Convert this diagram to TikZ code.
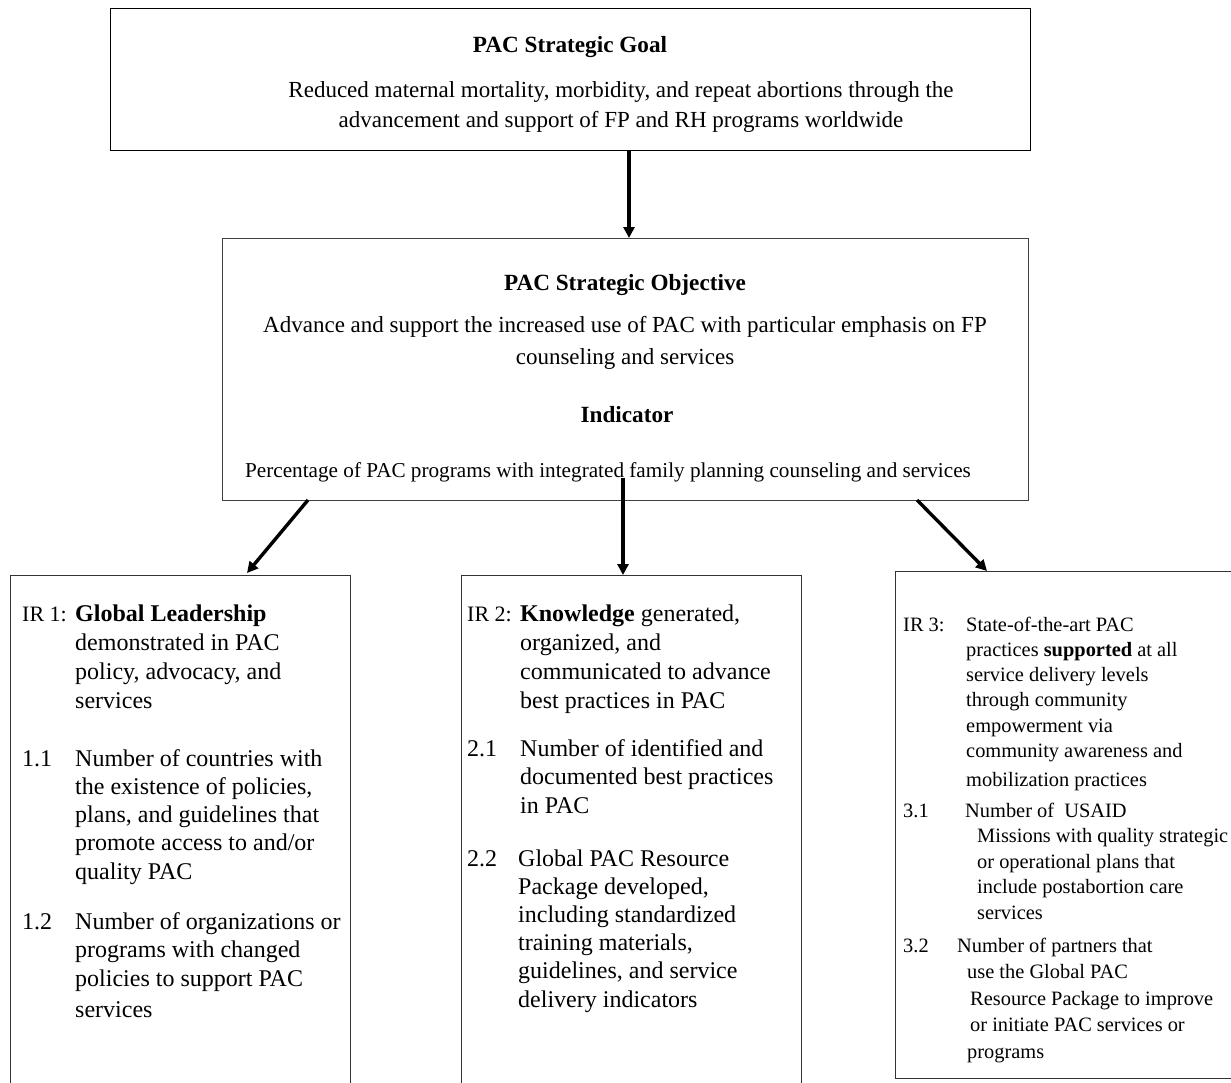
\documentclass[tikz,border=0pt]{standalone}
\usepackage{fontspec}
\setmainfont{Liberation Serif}
\usetikzlibrary{arrows.meta}
\newcommand{\fs}[2]{\fontsize{#1}{#2}\selectfont}
\newcommand{\irlab}[1]{{\fontsize{22}{22}\selectfont #1}}
\begin{document}
\begin{tikzpicture}[x=1pt,y=-1pt,
  topbox/.style={draw=black,line width=1.4pt,inner sep=0pt,anchor=north west},
  midbox/.style={draw=black!75,line width=1.4pt,inner sep=0pt,anchor=north west},
  irbox/.style={draw=black!80,line width=1.2pt,inner sep=0pt,anchor=north west},
  txt/.style={inner sep=0pt,anchor=base},
  blk/.style={inner sep=0pt,anchor=base west},
  conn/.style={line width=3.4pt,-{Triangle[length=11pt,width=11pt]}}]
\useasboundingbox (0,0) rectangle (1231,1082);
\fill[white] (0,0) rectangle (1231,1082);
% boxes
\node[topbox,minimum width=920pt,minimum height=142pt] (goal) at (110,8) {};
\node[midbox,minimum width=806pt,minimum height=262pt] (obj) at (222,238) {};
\node[irbox,minimum width=340pt,minimum height=540pt] (ir1) at (10,575) {};
\node[irbox,minimum width=340pt,minimum height=540pt] (ir2) at (461,575) {};
\node[irbox,minimum width=360pt,minimum height=507pt] (ir3) at (895,571) {};
% top box text
\node[txt,font=\fs{23.2}{27}\bfseries] (gt) at (570,52) {PAC Strategic Goal};
\node[txt,font=\fs{23}{27}] (g1) at (621,97) {Reduced maternal mortality, morbidity, and repeat abortions through the};
\node[txt,font=\fs{23}{27}] (g2) at (621,127) {advancement and support of FP and RH programs worldwide};
% objective box text
\node[txt,font=\fs{23.2}{27}\bfseries] (ot) at (625,290) {PAC Strategic Objective};
\node[txt,font=\fs{23}{27}] (o1) at (625,332) {Advance and support the increased use of PAC with particular emphasis on FP};
\node[txt,font=\fs{23}{27}] (o2) at (625,364) {counseling and services};
\node[txt,font=\fs{23.2}{27}\bfseries] (it) at (627,422) {Indicator};
\node[txt,font=\fs{21.2}{27}] (i1) at (608,477) {Percentage of PAC programs with integrated family planning counseling and services};
% IR 1
\node[blk,font=\fs{24}{29.3}] (l0) at (22,621) {\begin{tabular}[t]{@{}p{53pt}@{}l@{}}\irlab{IR 1:} & \textbf{Global Leadership}\\ & demonstrated in PAC\\ & policy, advocacy, and\\ & services\end{tabular}};
\node[blk,font=\fs{24}{28.3}] (l1) at (22,766) {\begin{tabular}[t]{@{}p{53pt}@{}l@{}}1.1 & Number of countries with\\ & the existence of policies,\\ & plans, and guidelines that\\ & promote access to and/or\\ & quality PAC\end{tabular}};
\node[blk,font=\fs{24}{28.5}] (l2) at (22,929) {\begin{tabular}[t]{@{}p{53pt}@{}l@{}}1.2 & Number of organizations or\\ & programs with changed\\ & policies to support PAC\\[3pt] & services\end{tabular}};
% IR 2
\node[blk,font=\fs{24}{29.3}] (m0) at (467,621) {\begin{tabular}[t]{@{}p{53pt}@{}l@{}}\irlab{IR 2:} & \textbf{Knowledge} generated,\\ & organized, and\\ & communicated to advance\\ & best practices in PAC\end{tabular}};
\node[blk,font=\fs{24}{28.5}] (m1) at (467,756) {\begin{tabular}[t]{@{}p{53pt}@{}l@{}}2.1 & Number of identified and\\ & documented best practices\\ & in PAC\end{tabular}};
\node[blk,font=\fs{24}{28.2}] (m2) at (467,866) {\begin{tabular}[t]{@{}p{51pt}@{}l@{}}2.2 & Global PAC Resource\\ & Package developed,\\ & including standardized\\ & training materials,\\ & guidelines, and service\\ & delivery indicators\end{tabular}};
% IR 3
\node[blk,font=\fs{20.4}{25.3}] (r0) at (903,631) {\begin{tabular}[t]{@{}p{63pt}@{}l@{}}IR 3: & State-of-the-art PAC\\ & practices \textbf{supported} at all\\ & service delivery levels\\ & through community\\ & empowerment via\\ & community awareness and\\[4pt] & mobilization practices\end{tabular}};
\node[blk,font=\fs{20.4}{25.5}] (r1) at (903,817) {\begin{tabular}[t]{@{}p{74pt}@{}l@{}}3.1 & \hspace{-12pt}Number of\ \ USAID\\ & Missions with quality strategic\\ & or operational plans that\\ & include postabortion care\\ & services\end{tabular}};
\node[blk,font=\fs{20.4}{26.5}] (r2) at (903,952) {\begin{tabular}[t]{@{}p{64pt}@{}l@{}}3.2 & \hspace{-10pt}Number of partners that\\ & use the Global PAC\\ & \hspace{3pt}Resource Package to improve\\ & \hspace{3pt}or initiate PAC services or\\ & programs\end{tabular}};
% connectors
\coordinate (a0) at (629,0);
\coordinate (a1s) at (308,500);
\coordinate (a1e) at (247,573);
\coordinate (a2) at (623,478);
\coordinate (a3s) at (917,500);
\coordinate (a3e) at (987,571);
\draw[conn] (goal.south -| a0) -- (obj.north -| a0);
\draw[conn] (a1s) -- (a1e);
\draw[conn] (a2) -- (ir2.north -| a2);
\draw[conn] (a3s) -- (a3e);
\end{tikzpicture}
\end{document}
